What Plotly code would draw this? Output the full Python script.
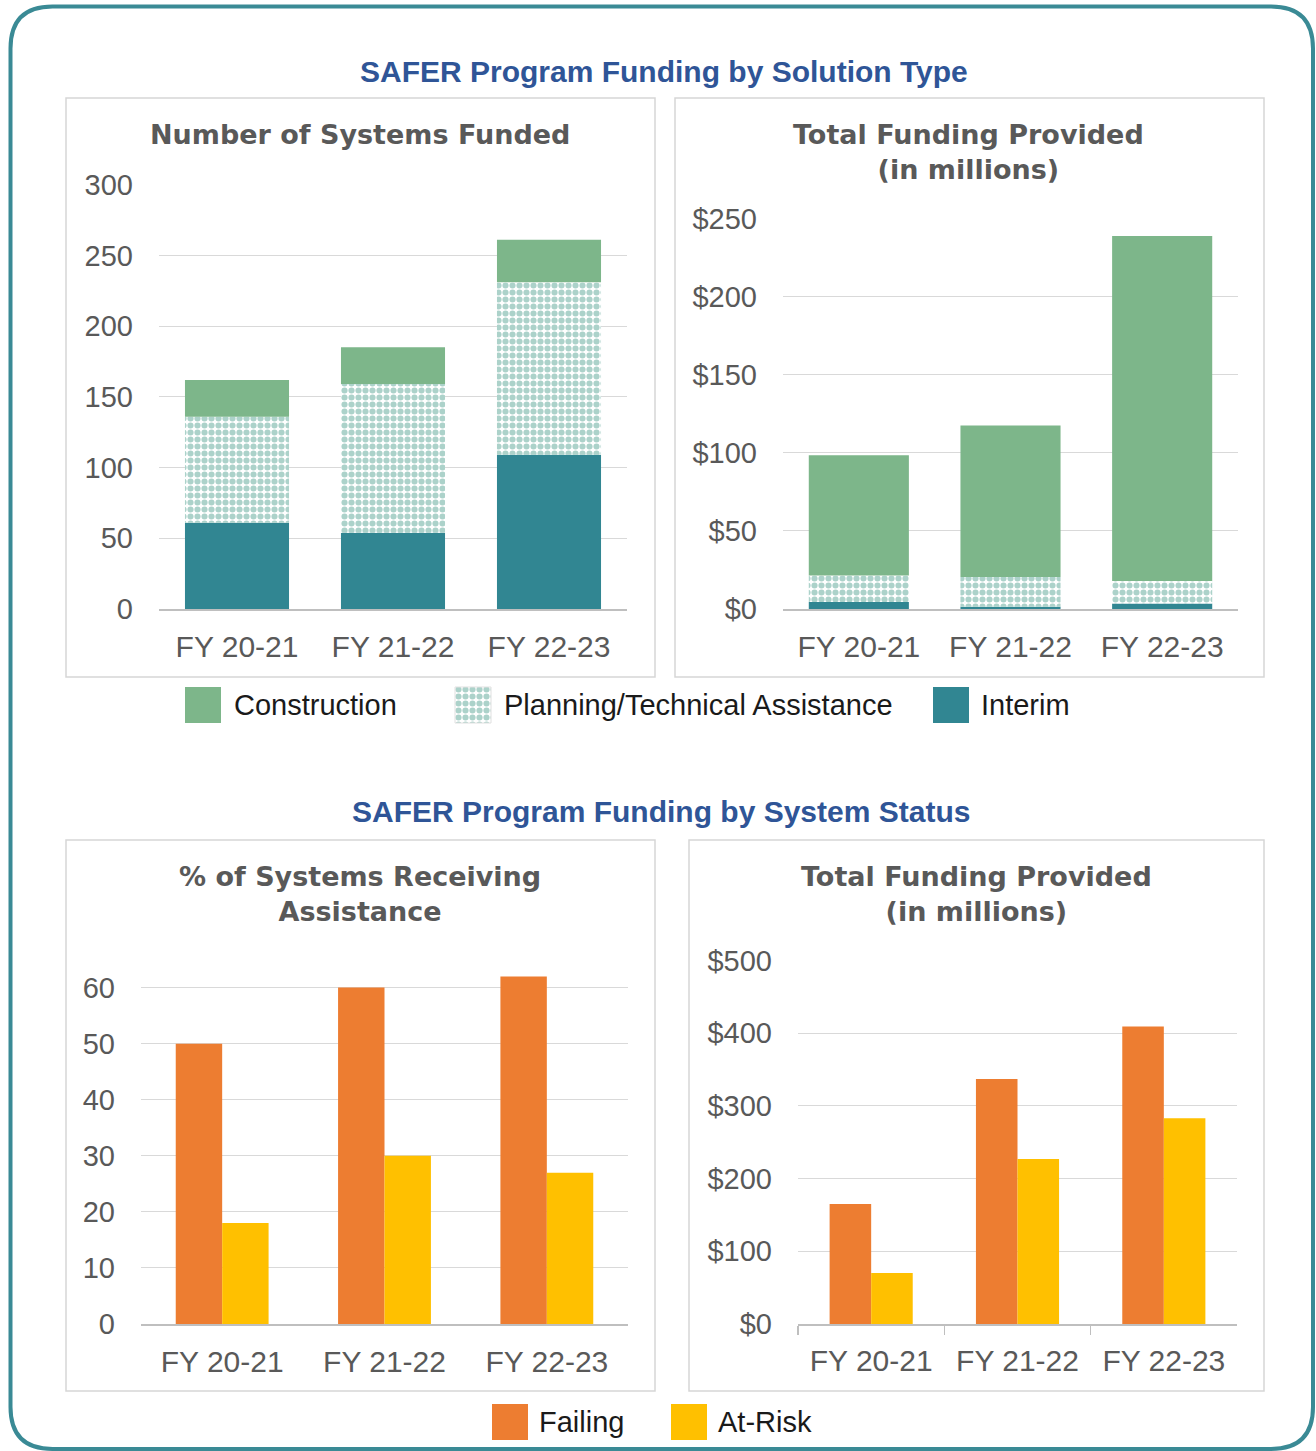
import plotly.graph_objects as go
import numpy as np

W, H = 1316, 1451

# ---------------- data ----------------
years = ["FY 20-21", "FY 21-22", "FY 22-23"]

systems_interim = [61, 54, 109]
systems_planning = [75, 105, 122]
systems_construction = [26, 26, 30]

funding_interim = [4.5, 1.5, 3.5]
funding_planning = [17, 19, 14.5]
funding_construction = [77, 97, 221]

pct_failing = [50, 60, 62]
pct_atrisk = [18, 30, 27]

status_funding_failing = [165, 337, 409]
status_funding_atrisk = [70, 227, 283]

# ---------------- style ----------------
C_CONSTR = "#7db68a"
C_INTERIM = "#318692"
C_PLAN_DOT = "#5aa595"
C_FAIL = "#ed7d31"
C_ATRISK = "#ffc000"
C_BORDER = "#3a8a95"
C_TITLE = "#2f5597"
C_SUB = "#595959"
C_GRID = "#d9d9d9"
C_AXIS = "#bfbfbf"
FONT = "Liberation Sans, Arial, sans-serif"

plan_pattern = dict(shape=".", fgcolor=C_PLAN_DOT, bgcolor="white", size=7, solidity=0.6)


def px(x):
    return x / W


def py(y):
    return 1 - y / H


fig = go.Figure()

# --- top-left: number of systems (stacked via base) ---
s_i = np.array(systems_interim, float)
s_p = np.array(systems_planning, float)
s_c = np.array(systems_construction, float)
fig.add_trace(go.Bar(x=years, y=s_i, marker=dict(color=C_INTERIM, line=dict(width=0)),
                     width=0.667, xaxis="x", yaxis="y", name="Interim"))
fig.add_trace(go.Bar(x=years, y=s_p, base=s_i, marker=dict(color="white", pattern=plan_pattern, line=dict(width=0)),
                     width=0.667, xaxis="x", yaxis="y", name="Planning/Technical Assistance"))
fig.add_trace(go.Bar(x=years, y=s_c, base=s_i + s_p, marker=dict(color=C_CONSTR, line=dict(width=0)),
                     width=0.667, xaxis="x", yaxis="y", name="Construction"))

# --- top-right: funding by solution type ---
f_i = np.array(funding_interim, float)
f_p = np.array(funding_planning, float)
f_c = np.array(funding_construction, float)
fig.add_trace(go.Bar(x=years, y=f_i, marker=dict(color=C_INTERIM, line=dict(width=0)),
                     width=0.66, xaxis="x2", yaxis="y2", name="Interim"))
fig.add_trace(go.Bar(x=years, y=f_p, base=f_i, marker=dict(color="white", pattern=plan_pattern, line=dict(width=0)),
                     width=0.66, xaxis="x2", yaxis="y2", name="Planning/Technical Assistance"))
fig.add_trace(go.Bar(x=years, y=f_c, base=f_i + f_p, marker=dict(color=C_CONSTR, line=dict(width=0)),
                     width=0.66, xaxis="x2", yaxis="y2", name="Construction"))

# --- bottom-left: % systems ---
bw3 = 0.286
fig.add_trace(go.Bar(x=years, y=pct_failing, marker=dict(color=C_FAIL, line=dict(width=0)),
                     width=bw3, offset=-bw3, xaxis="x3", yaxis="y3", name="Failing"))
fig.add_trace(go.Bar(x=years, y=pct_atrisk, marker=dict(color=C_ATRISK, line=dict(width=0)),
                     width=bw3, offset=0, xaxis="x3", yaxis="y3", name="At-Risk"))

# --- bottom-right: funding by status ---
bw4 = 0.284
fig.add_trace(go.Bar(x=years, y=status_funding_failing, marker=dict(color=C_FAIL, line=dict(width=0)),
                     width=bw4, offset=-bw4, xaxis="x4", yaxis="y4", name="Failing"))
fig.add_trace(go.Bar(x=years, y=status_funding_atrisk, marker=dict(color=C_ATRISK, line=dict(width=0)),
                     width=bw4, offset=0, xaxis="x4", yaxis="y4", name="At-Risk"))

# --- legend swatches (hidden pixel axis) ---
legend_items = [
    # (center x, top y, label, marker, text x)
    (203, 687, "Construction", dict(color=C_CONSTR), 232),
    (473, 687, "Planning/Technical Assistance", dict(color="white", pattern=plan_pattern,
                                                    line=dict(color="#e0e0e0", width=1)), 502),
    (951, 687, "Interim", dict(color=C_INTERIM), 979),
    (510, 1404, "Failing", dict(color=C_FAIL), 537),
    (689, 1404, "At-Risk", dict(color=C_ATRISK), 716),
]
SW = 36
for cx, ty, label, mk, tx in legend_items:
    mk = dict(mk)
    mk.setdefault("line", dict(width=0))
    fig.add_trace(go.Bar(x=[cx], y=[SW], base=[ty], width=[SW], marker=mk,
                         xaxis="x5", yaxis="y5", hoverinfo="skip"))

ytickfont = dict(family=FONT, size=29, color=C_SUB)
xtickfont = dict(family=FONT, size=30, color=C_SUB)


def yax(domain, anchor, rng, dtick, prefix=""):
    return dict(domain=domain, anchor=anchor, range=rng, dtick=dtick, tickprefix=prefix, showgrid=True,
                gridcolor=C_GRID, gridwidth=1, zeroline=False, showline=False, ticks="",
                tickfont=ytickfont, ticklabelstandoff=25, fixedrange=True, automargin=False)


def xax(domain, anchor, ticks=False):
    d = dict(domain=domain, anchor=anchor, type="category", showline=True, linecolor=C_AXIS,
             linewidth=1.5, showgrid=False, zeroline=False, tickfont=xtickfont,
             ticklabelstandoff=10, range=[-0.5, 2.5], fixedrange=True, automargin=False)
    if ticks:
        d.update(ticks="outside", ticklen=9, tickcolor=C_AXIS, tickwidth=1.5, tickson="boundaries",
                 ticklabelstandoff=9)
    else:
        d.update(ticks="")
    return d


layout = dict(
    width=W, height=H, margin=dict(l=0, r=0, t=0, b=0, pad=0, autoexpand=False),
    paper_bgcolor="white", plot_bgcolor="rgba(0,0,0,0)",
    barmode="overlay", showlegend=False,
    font=dict(family=FONT, color=C_SUB),
    xaxis=xax([px(159), px(627)], "y"),
    yaxis=yax([py(609), py(184)], "x", [0, 300.5], 50),
    xaxis2=xax([px(783), px(1238)], "y2"),
    yaxis2=yax([py(609), py(218)], "x2", [0, 250.5], 50, "$"),
    xaxis3=xax([px(141), px(628)], "y3"),
    yaxis3=yax([py(1324), py(968)], "x3", [0, 63.5], 10),
    xaxis4=xax([px(798), px(1237)], "y4", ticks=True),
    yaxis4=yax([py(1324), py(960)], "x4", [0, 500.5], 100, "$"),
    xaxis5=dict(domain=[0, 1], range=[0, W], visible=False, fixedrange=True, anchor="y5", automargin=False),
    yaxis5=dict(domain=[0, 1], range=[H, 0], visible=False, fixedrange=True, anchor="x5", automargin=False),
)

# ---------------- shapes ----------------
shapes = []
# panel boxes
for x0, y0, x1, y1 in [(66, 98, 655, 677), (675, 98, 1264, 677), (66, 840, 655, 1391), (689, 840, 1264, 1391)]:
    shapes.append(dict(type="rect", xref="paper", yref="paper", x0=px(x0), x1=px(x1), y0=py(y1), y1=py(y0),
                       line=dict(color="#d6d6d6", width=1.5), fillcolor="rgba(0,0,0,0)", layer="below"))

# rounded outer border
L, T, R, B, r = 10.5, 6.5, 1313, 1449, 42
def P(x, y):
    return f"{px(x):.5f},{py(y):.5f}"
path = (f"M {P(L + r, T)} L {P(R - r, T)} Q {P(R, T)} {P(R, T + r)} "
        f"L {P(R, B - r)} Q {P(R, B)} {P(R - r, B)} "
        f"L {P(L + r, B)} Q {P(L, B)} {P(L, B - r)} "
        f"L {P(L, T + r)} Q {P(L, T)} {P(L + r, T)} Z")
shapes.append(dict(type="path", xref="paper", yref="paper", path=path,
                   line=dict(color=C_BORDER, width=4), fillcolor="rgba(0,0,0,0)"))
layout["shapes"] = shapes

# ---------------- annotations ----------------
ann = []
def text(x, y, s, size, color, bold=False, xanchor="center", family=FONT):
    ann.append(dict(xref="paper", yref="paper", x=px(x), y=py(y), text=f"<b>{s}</b>" if bold else s,
                    showarrow=False, xanchor=xanchor, yanchor="middle",
                    font=dict(family=family, size=size, color=color)))

text(664, 71, "SAFER Program Funding by Solution Type", 30, C_TITLE, True)
text(661, 811, "SAFER Program Funding by System Status", 30, C_TITLE, True)

SUBF = "DejaVu Sans, Verdana, sans-serif"
text(360, 135, "Number of Systems Funded", 27, C_SUB, True, family=SUBF)
text(969, 152, "Total Funding Provided<br>(in millions)", 27, C_SUB, True, family=SUBF)
text(360, 894, "% of Systems Receiving<br>Assistance", 27, C_SUB, True, family=SUBF)
text(976, 894, "Total Funding Provided<br>(in millions)", 27, C_SUB, True, family=SUBF)

for cx, ty, label, mk, tx in legend_items:
    text(tx, ty + SW / 2, label, 29, "#1a1a1a", xanchor="left")

layout["annotations"] = ann

fig.update_layout(**layout)
fig.write_html("out.html", config=dict(displayModeBar=False, staticPlot=True),
               post_script="document.body.style.margin='0';document.body.style.overflow='hidden';")
